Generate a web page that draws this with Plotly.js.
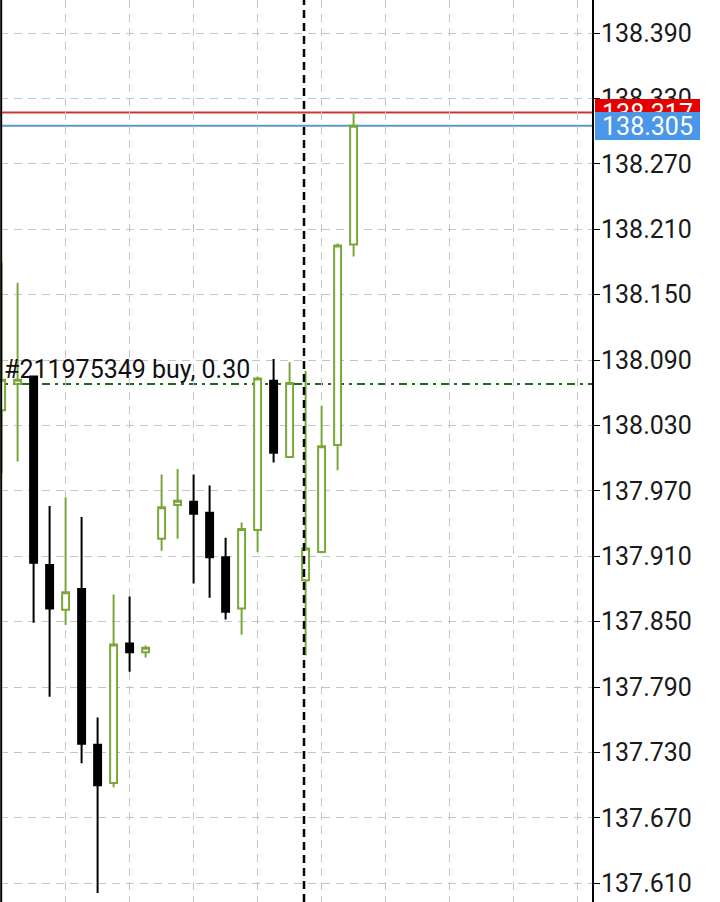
<!DOCTYPE html>
<html>
<head>
<meta charset="utf-8">
<script src="https://cdn.plot.ly/plotly-3.0.1.min.js"></script>
<style>html,body{margin:0;padding:0;background:#fff;}#chart{width:720px;height:902px;}</style>
</head>
<body>
<div id="chart"></div>
<script>
// Candle index (bar number)
const barIndex = [0,1,2,3,4,5,6,7,8,9,10,11,12,13,14,15,16,17,18,19,20,21,22];
const opens  = [138.044,138.068,138.075,137.902,137.861,137.880,137.737,137.702,137.830,137.822,137.926,137.957,137.960,137.950,137.909,137.862,137.934,138.071,138.001,137.888,137.914,138.012,138.196];
const highs  = [138.180,138.161,138.075,137.956,137.964,137.946,137.762,137.875,137.873,137.828,137.985,137.990,137.985,137.975,137.927,137.941,138.075,138.091,138.088,138.080,138.048,138.197,138.317];
const lows   = [137.986,137.997,137.849,137.781,137.847,137.720,137.601,137.698,137.804,137.817,137.915,137.926,137.885,137.872,137.852,137.838,137.914,137.996,138.001,137.819,137.914,137.989,138.185];
const closes = [138.072,138.072,137.904,137.862,137.877,137.738,137.700,137.829,137.822,137.826,137.955,137.961,137.949,137.909,137.859,137.935,138.073,138.005,138.069,137.917,138.011,138.195,138.305];

const tickLabels = ['137.610','137.670','137.730','137.790','137.850','137.910','137.970','138.030','138.090','138.150','138.210','138.270','138.330','138.390'];
const tickValues = tickLabels.map(Number);

const askPrice = 138.317;
const bidPrice = 138.305;
const orderPrice = 138.068;
const orderText = '#211975349 buy, 0.30';
const separatorBar = 18.9;

const green = '#78a83a';

const trace = {
  type: 'candlestick',
  x: barIndex, open: opens, high: highs, low: lows, close: closes,
  increasing: {line: {color: green, width: 2}, fillcolor: '#ffffff'},
  decreasing: {line: {color: '#000000', width: 2}, fillcolor: '#000000'},
  whiskerwidth: 0,
  hoverinfo: 'skip',
  showlegend: false
};

const layout = {
  width: 720, height: 902,
  margin: {l: 0, r: 128, t: 0, b: 0, pad: 0},
  paper_bgcolor: '#ffffff', plot_bgcolor: '#ffffff',
  font: {family: 'Roboto, sans-serif', size: 24, color: '#1a1a1a'},
  boxgap: 0.38,
  showlegend: false,
  xaxis: {
    range: [-0.1, 36.9], showticklabels: false, ticks: '',
    showgrid: true, tick0: 0, dtick: 4, gridcolor: '#c4c4c4', gridwidth: 1, griddash: '8px,6px',
    zeroline: false, showline: false, rangeslider: {visible: false}, fixedrange: true
  },
  yaxis: {
    side: 'right', range: [137.5928, 138.4203],
    tickmode: 'array', tickvals: tickValues, ticktext: tickLabels,
    showgrid: true, gridcolor: '#c4c4c4', gridwidth: 1, griddash: '8px,6px',
    zeroline: false, showline: true, linecolor: '#000000', linewidth: 2,
    ticks: 'outside', ticklen: 6, tickcolor: '#000000', tickwidth: 1,
    ticklabelstandoff: -4,
    tickfont: {family: 'Roboto, sans-serif', size: 25, color: '#1a1a1a'},
    fixedrange: true
  },
  shapes: [
    {type: 'line', xref: 'paper', yref: 'paper', x0: 0.002, x1: 0.002, y0: 0, y1: 1, line: {color: '#000', width: 2}, layer: 'above'},
    {type: 'line', xref: 'paper', yref: 'y', x0: 0, x1: 1, y0: askPrice, y1: askPrice, line: {color: '#c43a3a', width: 2}, layer: 'between'},
    {type: 'line', xref: 'paper', yref: 'y', x0: 0, x1: 1, y0: bidPrice, y1: bidPrice, line: {color: '#5e97c8', width: 2}, layer: 'between'},
    {type: 'line', xref: 'paper', yref: 'y', x0: 0, x1: 1, y0: orderPrice, y1: orderPrice, line: {color: '#1f6a1f', width: 2, dash: '8px,5px,3px,5px'}, layer: 'between'},
    {type: 'line', xref: 'x', yref: 'paper', x0: separatorBar, x1: separatorBar, y0: 0, y1: 1, line: {color: '#000000', width: 2.5, dash: '8px,5px'}, layer: 'above'}
  ],
  annotations: [
    {xref: 'paper', yref: 'y', x: 0.004, y: orderPrice, xanchor: 'left', yanchor: 'bottom', yshift: -2,
     text: orderText, showarrow: false, font: {family: 'Roboto, sans-serif', size: 25, color: '#111'}},
    {xref: 'paper', yref: 'y', x: 595/592, y: askPrice, xanchor: 'left', yanchor: 'middle',
     text: askPrice.toFixed(3), showarrow: false, bgcolor: '#e60000', bordercolor: '#e60000', borderpad: 2,
     width: 99, height: 22, align: 'center', font: {family: 'Roboto, sans-serif', size: 25, color: '#ffffff'}},
    {xref: 'paper', yref: 'y', x: 595/592, y: bidPrice, xanchor: 'left', yanchor: 'middle',
     text: bidPrice.toFixed(3), showarrow: false, bgcolor: '#4a97ea', bordercolor: '#4a97ea', borderpad: 2,
     width: 99, height: 22, align: 'center', font: {family: 'Roboto, sans-serif', size: 25, color: '#ffffff'}}
  ]
};

Plotly.newPlot('chart', [trace], layout, {staticPlot: true, displayModeBar: false});
</script>
</body>
</html>
